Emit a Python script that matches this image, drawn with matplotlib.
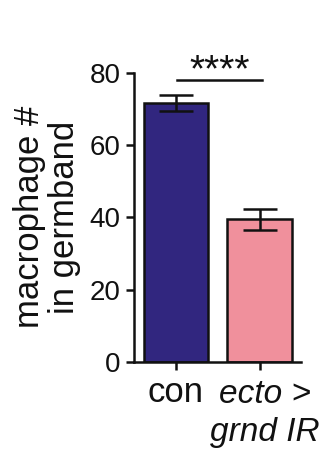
import matplotlib
matplotlib.use("Agg")
import matplotlib.pyplot as plt

categories = ["con", "ecto >\ngrnd IR"]
means = [71.6, 39.5]
errors = [2.3, 2.9]
colors = ["#31267F", "#F0909C"]

plt.rcParams['font.family'] = ['Liberation Sans', 'DejaVu Sans']

fig = plt.figure(figsize=(3.25, 4.49), dpi=100)
ax = fig.add_axes([0.412, 0.194, 0.514, 0.644])
x = [0, 1]
ax.bar(x, means, width=0.77, color=colors, edgecolor="#111111", linewidth=1.8, zorder=2)
ax.errorbar(x, means, yerr=errors, fmt="none", ecolor="#111111", elinewidth=1.8, capsize=12, capthick=1.8, zorder=3)
ax.set_xlim(-0.5, 1.49)
ax.set_ylim(0, 80)
ax.set_yticks([0, 20, 40, 60, 80])
ax.set_xticks(x)
ax.set_xticklabels(["con", ""])
ax.text(1.06, -0.06, "ecto >\ngrnd IR", transform=ax.get_xaxis_transform(), ha="center", va="top",
        fontsize=24, style="italic", linespacing=1.3, color="#111111")
for s in ["top", "right"]:
    ax.spines[s].set_visible(False)
for s in ["left", "bottom"]:
    ax.spines[s].set_linewidth(1.8)
    ax.spines[s].set_color("#111111")
ax.tick_params(axis="both", width=1.8, length=6, labelsize=20, color="#111111", labelcolor="#111111")
ax.tick_params(axis="x", labelsize=25, pad=4)
ax.set_ylabel("macrophage #\nin germband", fontsize=25, linespacing=1.1, labelpad=6, color="#111111")
ax.plot([0.012, 1.024], [78, 78], color="#111111", lw=1.8, clip_on=False)
ax.text(0.52, 80.3, "****", ha="center", va="center", fontsize=28, color="#111111")
fig.savefig("out.png", dpi=100)
